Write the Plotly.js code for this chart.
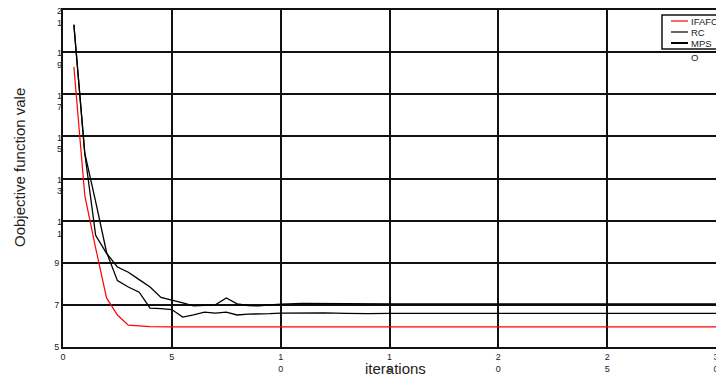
<!DOCTYPE html>
<html>
<head>
<meta charset="utf-8">
<script src="https://cdn.plot.ly/plotly-3.0.1.min.js"></script>
<style>html,body{margin:0;padding:0;background:#fff;}#chart{width:716px;height:376px;}</style>
</head>
<body>
<div id="chart"></div>
<script>
// ---- data ----
var ifafcX = [0.5, 1, 1.5, 2, 2.5, 3, 3.5, 4, 5, 10, 15, 20, 25, 30];
var ifafcY = [18.3, 12.2, 9.7, 7.33, 6.52, 6.04, 6.0, 5.97, 5.96, 5.96, 5.96, 5.96, 5.96, 5.96];

var blackX = [0.5, 1, 1.5, 2, 2.5, 3, 3.5, 4, 4.5, 5, 5.5, 6, 6.5, 7, 7.5, 8, 8.5, 9, 9.5, 10, 11, 12, 13, 14, 15, 20, 25, 30];
var rcY    = [20.3, 14.2, 10.3, 9.45, 8.8, 8.55, 8.2, 7.85, 7.35, 7.23, 7.1, 6.95, 6.98, 7.0, 7.33, 7.05, 6.97, 6.95, 7.0, 7.04, 7.07, 7.06, 7.05, 7.05, 7.05, 7.05, 7.05, 7.05];
var mpsoY  = [20.3, 14.2, 11.9, 9.5, 8.15, 7.85, 7.6, 6.85, 6.82, 6.78, 6.42, 6.52, 6.66, 6.61, 6.66, 6.52, 6.56, 6.56, 6.58, 6.61, 6.63, 6.62, 6.6, 6.58, 6.6, 6.6, 6.6, 6.6];

var xTickVals = [0, 5, 10, 15, 20, 25, 30];
var xTickText = ['0', '5', '1<br>0', '1<br>5', '2<br>0', '2<br>5', '3<br>0'];
// single-line y labels and two-line y labels (drawn on a twin axis so they can hang below the grid line)
var yTickVals = [5, 7, 9, 11, 13, 15, 17, 19, 21];
var yTickTextShort = ['5', '7', '9', '', '', '', '', '', ''];
var yTickVals2 = [11, 13, 15, 17, 19, 21];
var yTickText2 = ['1<br>1', '1<br>3', '1<br>5', '1<br>7', '1<br>9', '2<br>1'];

var seriesNames = ['IFAFC', 'RC', 'MPSO'];
var xTitle = 'iterations';
var yTitle = 'Oobjective function vale';

// ---- chart ----
var FONT = 'Liberation Sans, Arial, sans-serif';
var traces = [
  {x: ifafcX, y: ifafcY, name: seriesNames[0], mode: 'lines', line: {color: '#ff0000', width: 1.2}},
  {x: blackX, y: rcY, name: seriesNames[1], mode: 'lines', line: {color: '#000000', width: 1.3}},
  {x: blackX, y: mpsoY, name: seriesNames[2], mode: 'lines', line: {color: '#000000', width: 1.3}},
  {x: [0], y: [5], yaxis: 'y2', mode: 'markers', marker: {opacity: 0}, hoverinfo: 'skip', showlegend: false}
];

function px(xp) { return (xp - 63) / 653; }
function py(yp) { return (347 - yp) / 337; }

var tickFont = {family: FONT, size: 9, color: '#222'};
var layout = {
  width: 716, height: 376,
  margin: {l: 63, r: 0, t: 10, b: 29, pad: 0},
  paper_bgcolor: '#ffffff', plot_bgcolor: '#ffffff',
  showlegend: false,
  font: {family: FONT, color: '#222'},
  xaxis: {
    range: [0, 30], tickvals: xTickVals, ticktext: xTickText,
    showgrid: true, gridcolor: '#111', gridwidth: 2,
    showline: true, linecolor: '#111', linewidth: 2, mirror: true,
    zeroline: false, ticks: '', tickfont: tickFont, ticklabeloverflow: 'allow',
    fixedrange: true
  },
  yaxis: {
    range: [5, 21], tickvals: yTickVals, ticktext: yTickTextShort,
    showgrid: true, gridcolor: '#111', gridwidth: 2,
    showline: true, linecolor: '#111', linewidth: 2, mirror: true,
    zeroline: false, ticks: '', tickfont: tickFont, ticklabeloverflow: 'allow',
    fixedrange: true
  },
  yaxis2: {
    overlaying: 'y', side: 'left', range: [5, 21], tickvals: yTickVals2, ticktext: yTickText2,
    showgrid: false, showline: false, zeroline: false, ticks: '',
    tickfont: tickFont, ticklabelshift: 7, ticklabeloverflow: 'allow', fixedrange: true
  },
  shapes: [
    {type: 'rect', xref: 'paper', yref: 'paper', x0: px(662), x1: px(730), y0: py(49), y1: py(15),
     fillcolor: '#fff', line: {color: '#111', width: 1.5}, layer: 'above'},
    {type: 'line', xref: 'paper', yref: 'paper', x0: px(671), x1: px(688), y0: py(21), y1: py(21), line: {color: '#ff0000', width: 1.2}},
    {type: 'line', xref: 'paper', yref: 'paper', x0: px(671), x1: px(688), y0: py(32), y1: py(32), line: {color: '#000', width: 1.2}},
    {type: 'line', xref: 'paper', yref: 'paper', x0: px(671), x1: px(688), y0: py(43), y1: py(43), line: {color: '#000', width: 2}}
  ],
  annotations: [
    {xref: 'paper', yref: 'paper', x: px(689), y: py(21), xanchor: 'left', yanchor: 'middle', showarrow: false, text: 'IFAFC', font: {family: FONT, size: 9.5, color: '#222'}},
    {xref: 'paper', yref: 'paper', x: px(689), y: py(32), xanchor: 'left', yanchor: 'middle', showarrow: false, text: 'RC', font: {family: FONT, size: 9.5, color: '#222'}},
    {xref: 'paper', yref: 'paper', x: px(689), y: py(43), xanchor: 'left', yanchor: 'middle', showarrow: false, text: 'MPS', font: {family: FONT, size: 9.5, color: '#222'}},
    {xref: 'paper', yref: 'paper', x: px(689), y: py(57), xanchor: 'left', yanchor: 'middle', showarrow: false, text: 'O', font: {family: FONT, size: 9.5, color: '#222'}},
    {xref: 'paper', yref: 'paper', x: px(395), y: py(368), xanchor: 'center', yanchor: 'middle', showarrow: false, text: xTitle, font: {family: FONT, size: 15, color: '#222'}},
    {xref: 'paper', yref: 'paper', x: px(19), y: py(168), xanchor: 'center', yanchor: 'middle', showarrow: false, textangle: -90, text: yTitle, font: {family: FONT, size: 15, color: '#222'}}
  ]
};

Plotly.newPlot('chart', traces, layout, {displayModeBar: false, staticPlot: true});
</script>
</body>
</html>
